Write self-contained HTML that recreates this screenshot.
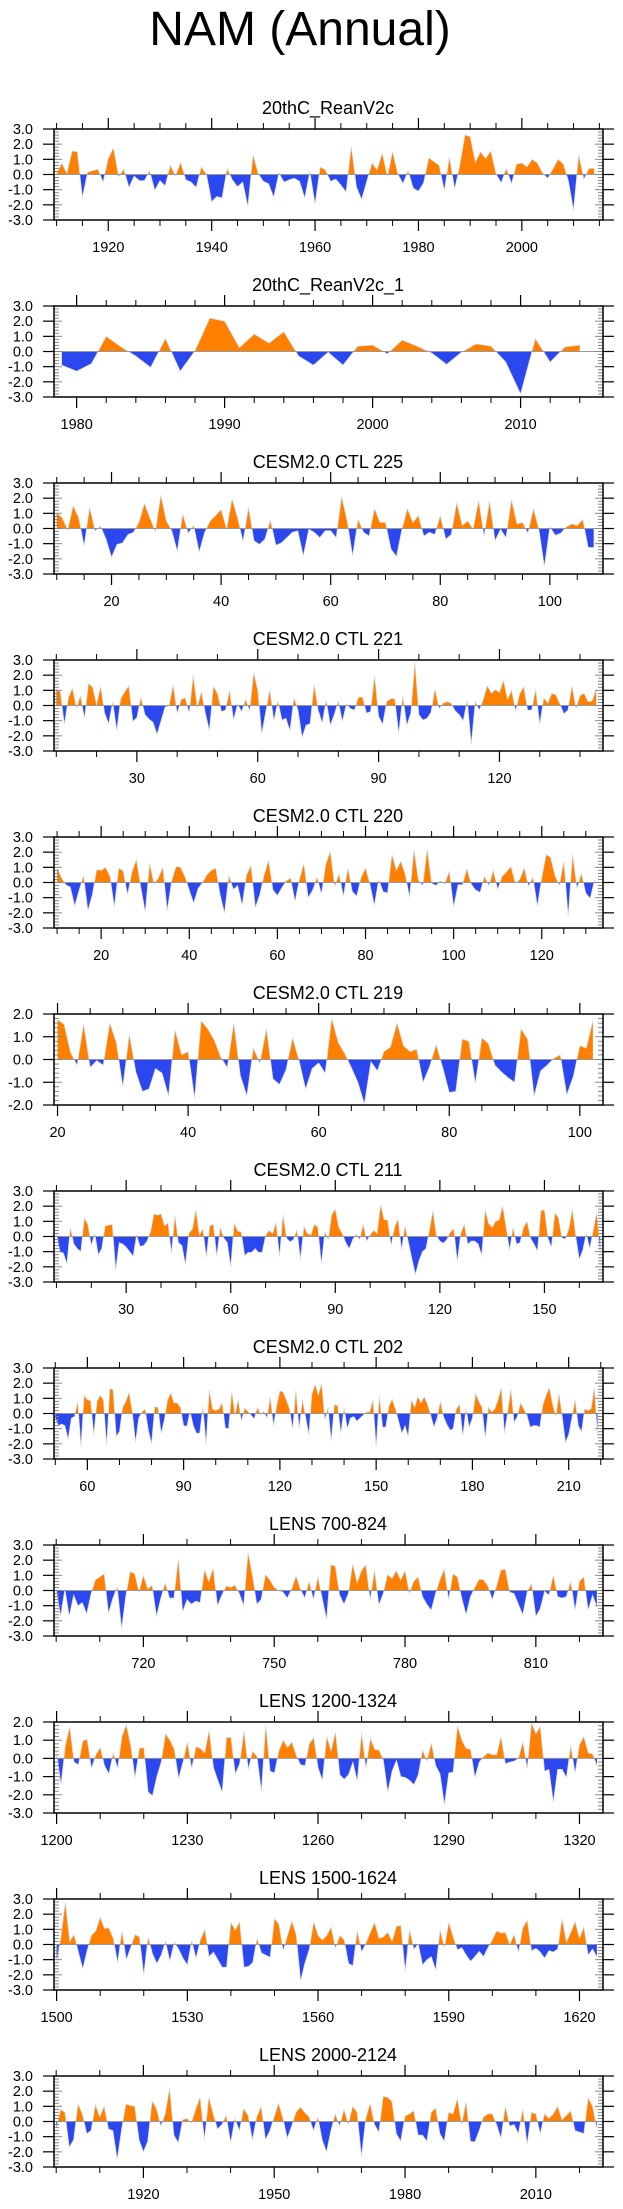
<!DOCTYPE html>
<html><head><meta charset="utf-8"><title>NAM (Annual)</title>
<style>
html,body{margin:0;padding:0;background:#fff;}
svg{display:block;font-family:"Liberation Sans",Arial,sans-serif;}
</style></head>
<body>
<svg id="fig" width="623" height="2209" viewBox="0 0 623 2209" xmlns="http://www.w3.org/2000/svg">
<text x="300" y="45" font-size="48" text-anchor="middle" fill="#000">NAM (Annual)</text>
</svg>
<script>
// ---- data arrays ----
const panelTitles = ["20thC_ReanV2c","20thC_ReanV2c_1","CESM2.0 CTL 225","CESM2.0 CTL 221","CESM2.0 CTL 220","CESM2.0 CTL 219","CESM2.0 CTL 211","CESM2.0 CTL 202","LENS 700-824","LENS 1200-1324","LENS 1500-1624","LENS 2000-2124"];
const panelStarts = [1910,1979,10,10,10,20,10,50,700,1200,1500,1900];
const panelXMin = [1909.5,1978.47,9.5,9.43,9.3,19.46,9.3,49.6,699.5,1199.4,1499.4,1899.5];
const panelXMax = [2015.7,2015.57,109.7,145.7,133.9,103.55,166.8,220.7,825.4,1325.4,1625.4,2025.4];
const panelYMin = [-3,-3,-3,-3,-3,-2,-3,-3,-3,-3,-3,-3];
const panelYMax = [3,3,3,3,3,2,3,3,3,2,3,3];
const majorTickStart = [1920,1980,20,30,20,20,30,60,720,1200,1500,1920];
const majorTickStep = [20,10,20,30,20,20,30,30,30,30,30,30];
const minorTickStep = [5,2,5,10,5,5,10,10,10,10,10,10];

const reanV2cValues = [0.05,0.75,0.05,1.55,1.5,-1.5,0.15,0.25,0.35,-0.5,1.05,1.75,-0.15,0.35,-0.85,-0.1,-0.4,-0.4,0.25,-1.05,-0.4,-0.75,0.6,-0.1,0.8,-0.35,-0.5,-0.85,0.5,0,-1.8,-1.45,-1.55,0.4,-0.35,-0.8,-0.5,-2.1,1.3,0.05,-0.45,-0.6,-1.5,0.1,-0.5,-0.35,-0.25,-0.45,-1.55,0.2,-1.95,0.5,0.3,-0.45,-0.3,-0.7,-1.15,1.85,-0.8,-1.65,-0.45,0.75,0.3,1.4,-0.15,1.5,0.05,-0.6,0.25,-0.9,-1.1,-0.55,1.1,0.85,0.6,-1.05,1.15,-0.95,0.6,2.6,2.5,0.8,1.5,1.05,1.55,0.05,-0.55,0.4,-0.6,0.7,0.75,0.5,1.0,0.75,0.1,-0.25,0.35,1.0,0.7,-0.4,-2.35,1.3,-0.3,0.4,0.4];
const reanV2c1Values = [-0.9,-1.3,-0.8,1.0,0.3,-0.3,-1.05,0.85,-1.3,0.05,2.2,2.0,0.25,1.15,0.55,1.3,-0.3,-0.9,-0.05,-0.9,0.35,0.42,-0.15,0.75,0.35,-0.1,-0.85,-0.05,0.5,0.35,-0.7,-2.8,0.85,-0.7,0.3,0.42];
const ctl225Values = [1.05,0.7,-0.1,1.5,0.7,-1.15,1.4,-0.15,0.15,-0.7,-1.9,-1.05,-0.95,-0.4,-0.25,0.4,1.65,0.7,-0.2,2.2,0.5,-0.15,-1.5,0.95,-0.3,0.2,-1.55,-0.25,0.5,0.85,1.25,-0.05,1.95,0.7,-0.85,1.4,-0.8,-1.05,-0.7,0.55,-1.1,-0.95,-0.6,-0.25,-0.15,-1.8,-0.05,-0.25,-0.6,-0.15,-0.15,-0.6,2.1,0.5,-1.8,0.6,-0.25,-0.5,1.3,0.4,0.4,-1.35,-1.85,-0.05,1.3,0.4,0.85,-0.5,-0.25,-0.4,0.85,-0.7,-0.4,1.7,0.2,0.5,-0.05,1.85,-0.5,1.8,-0.8,-0.05,-0.6,1.9,0.3,0.4,-0.3,1.3,-0.05,-2.5,0.1,-0.45,-0.3,0.1,0.3,0.2,0.6,-1.25,-1.25];
const ctl221Values = [1.1,0.9,-1.25,0.5,1.15,-0.15,0.65,-0.85,1.45,1.2,0.05,1.25,-0.5,-1.2,0.25,-1.65,0.45,0.9,1.3,-1.05,-0.8,0.55,-0.6,-0.9,-1.1,-1.9,-1.0,-0.1,0.0,1.35,-0.5,0.4,0.5,-0.5,2.0,-0.15,0.9,-0.5,-1.65,1.25,0.8,-0.4,-0.3,1.0,-0.95,0.1,-0.4,0.4,-0.35,2.15,1.0,-1.85,-0.4,1.05,-1.0,0.3,-0.95,-0.85,-1.65,0.5,-0.3,-2.1,-1.3,-1.2,1.4,-0.3,-1.15,0.35,-1.3,-0.6,0.3,-1.05,0.1,-0.2,-0.3,0.55,0.55,-0.5,-0.4,1.95,-0.7,-1.25,0.25,0.45,0.45,-1.85,0.65,-1.3,-0.5,2.85,-0.6,-0.95,-0.85,-0.45,1.1,-0.2,0.15,0.25,0.15,-0.35,-0.6,-1.0,0.35,-2.55,0.25,-0.3,0.4,1.3,0.8,1.05,0.85,1.65,0.4,1.0,-0.35,0.75,1.25,-0.3,-0.3,1.05,-1.25,0.5,0.15,0.8,0.7,0.1,-0.55,-0.3,1.3,-0.2,0.65,0.8,0.25,0.3,1.05];
const ctl220Values = [1.0,0.3,-0.15,-0.3,-1.55,-0.5,0.45,-1.85,-0.8,0.85,0.8,1.0,0.4,-1.6,0.95,0.75,-0.8,0.7,1.5,-0.3,-1.95,1.25,-0.1,0.3,1.0,-1.85,0.1,1.05,1.0,0.4,-0.5,-1.35,-0.4,0.0,0.5,0.8,0.95,-0.8,-2.0,0.45,-0.45,-0.2,-1.5,0.5,1.1,-1.65,-0.8,0.5,1.45,-0.5,-0.85,-0.35,0.1,0.3,-1.25,0.2,1.25,-1.0,-0.5,0.35,-0.75,1.2,2.05,-0.25,0.55,-0.9,0.95,-0.6,-0.9,0.35,0.95,-0.1,-1.5,0.2,-0.6,-0.7,1.85,0.8,1.4,0.55,-0.95,2.15,0.15,-0.2,2.2,-0.05,-0.2,0.1,-0.1,0.75,-1.6,-0.15,-0.15,0.9,-0.1,-0.5,-0.65,0.4,-0.2,0.8,-0.45,0.4,0.7,1.05,-0.05,0.2,0.95,-0.25,0.35,-1.55,0.3,1.85,1.65,0.45,-0.2,1.4,-2.2,1.85,-0.4,0.6,-0.7,-1.05,0.2];
const ctl219Values = [1.75,1.55,0.3,-0.25,1.55,-0.35,-0.05,-0.25,1.6,0.75,-1.2,1.1,-0.55,-1.4,-1.3,-0.4,-0.6,-1.6,1.3,0.2,0.35,-1.7,1.7,1.35,0.85,0.1,-0.35,1.6,-0.7,-1.6,0.5,-0.15,1.35,-0.85,-1.1,-0.45,0.95,-0.05,-1.3,-0.4,-0.15,-0.6,1.8,0.75,0.25,-0.35,-1.0,-1.95,-0.1,-0.5,0.35,0.55,1.6,0.6,0.35,0.45,-1.0,-0.3,0.65,-0.35,-1.45,-1.4,0.9,0.8,-1.05,0.95,0.7,-0.25,-0.55,-0.8,-1.0,1.35,0.9,-1.6,-0.5,-0.25,0.05,0.2,-1.55,-0.75,0.6,0.5,1.7];
const ctl211Values = [0.2,-1.0,-1.1,-1.8,0.6,-0.5,-0.8,-1.0,1.2,0.8,-0.6,0.2,-1.2,-0.8,0.7,0.75,0.8,-2.2,-0.4,-0.5,-0.7,-1.0,-1.3,0.1,-0.65,-0.6,-0.3,0.3,1.5,1.4,1.5,0.7,0.9,-1.1,1.4,-0.4,-0.6,-1.85,0.2,0.5,1.75,0.1,0.5,-1.35,0.7,0.8,-1.3,0.6,-0.1,-0.4,-2.0,0.9,0.35,0.3,-1.25,-1.05,-1.05,-0.8,-1.05,-1.05,0.05,0.4,0.2,0.9,-1.3,1.45,-0.1,-0.35,-0.2,0.45,-1.5,0.65,0.2,0.1,0.8,0.6,-1.8,0.3,-0.2,1.45,1.8,0.6,0.2,-0.4,-0.8,-0.2,0.15,-0.2,0.8,-0.3,0.1,0.4,0.2,2.1,1.1,1.1,-0.6,0.6,1.15,-0.9,0.7,-0.4,-1.5,-2.5,-1.6,-1.0,-0.8,0.4,1.7,0.05,-0.3,-0.45,-0.2,0.3,0.5,-1.65,0.2,0.8,-0.5,-0.3,-0.3,-0.5,-1.25,1.75,0.85,0.6,1.0,1.1,2.0,0.6,-0.9,0.6,-0.5,-0.4,0.6,1.0,-0.1,-0.5,-0.95,1.7,1.75,-0.1,-0.7,1.55,1.25,-0.1,-0.15,0.5,1.8,0.0,-1.5,-0.9,0.2,-0.8,0.4,1.6,-1.15];
const ctl202Values = [-0.3,-0.8,-0.7,-0.8,-1.7,-0.3,-0.2,0.8,-2.2,1.2,0.9,0.85,-1.4,0.8,1.2,0.9,-2.1,1.65,1.55,-1.5,-1.2,0.4,0.8,1.4,0.1,-1.9,-0.3,0.1,0.3,-1.1,-2.0,0.45,0.4,-1.3,-0.4,0.9,1.35,0.7,0.7,0.4,-0.8,-0.85,0.15,-0.8,-1.3,-1.3,0.45,-2.0,1.55,0.3,0.2,0.3,0.7,-0.95,-1.0,1.45,-0.1,0.9,-0.5,0.35,0.15,-0.1,-0.35,0.4,-0.1,0.15,-0.3,1.1,-0.8,0.5,1.5,1.4,0.9,0.3,-1.0,1.55,-1.0,0.9,-0.2,-1.4,1.3,1.9,1.2,2.0,-0.4,0.4,-1.8,0.6,0.5,-1.3,0.4,-1.0,-0.3,-0.2,-0.5,-0.3,-0.1,0.1,0.1,0.9,-2.2,1.2,-0.9,-0.9,0.5,0.95,0.3,-0.5,-1.3,-0.8,-1.5,0.9,0.4,1.1,0.7,1.1,0.6,-0.1,-0.9,-0.3,0.8,-0.2,-0.7,-1.1,-1.0,0.3,0.6,-1.5,0.3,-0.9,-0.3,1.3,0.8,0.4,-1.6,0.4,0.1,0.3,0.9,1.7,-1.3,0.1,1.6,-0.6,-0.2,0.7,0.3,-0.1,-0.9,-0.8,-0.8,-0.9,0.6,1.2,1.7,0.6,-0.2,1.3,-0.2,-1.9,-1.4,-0.3,0.9,-0.8,-1.2,0.3,0.2,0.3,1.7,-1.5];
const lens700Values = [0.1,-1.7,0.1,-1.7,-0.3,-1.0,-0.8,-1.55,-0.2,0.7,0.9,1.1,-1.5,-0.5,0.25,-2.5,-0.3,1.25,1.1,-0.1,1.0,0.1,0.35,-1.7,-0.5,0.5,-0.5,-0.5,2.1,-1.4,-0.6,-0.9,-0.7,-0.8,1.35,0.6,1.45,-1.0,-0.3,0.3,0.2,0.35,-0.2,-1.0,2.5,1.0,-0.9,-0.6,1.05,0.7,0.2,0.0,-0.1,-0.5,0.1,0.95,0.1,-0.5,0.6,-0.6,0.9,-0.5,-1.9,1.7,1.6,-0.3,-0.9,-0.2,1.75,0.5,1.3,1.7,-0.6,1.35,-0.95,-0.2,1.05,0.8,1.3,0.7,1.3,-0.2,0.6,0.9,-0.4,-0.9,-1.3,-0.2,0.7,1.4,-0.6,1.1,0.9,-0.5,-1.6,-0.4,0.2,0.75,0.7,0.3,-0.6,0.3,1.35,1.4,-0.1,-0.2,-0.9,-1.6,-0.1,0.45,-1.7,-1.2,-0.05,-0.3,1.0,-0.4,-0.5,-0.4,0.6,-1.3,0.6,0.9,-1.3,-0.3,-1.05];
const lens1200Values = [0.35,-1.45,0.7,1.75,-0.2,-0.35,0.95,1.05,-0.55,0.2,0.6,-0.4,-0.85,0.3,-0.55,1.2,1.85,0.7,-1.05,0.55,0.6,-1.85,-2.05,-1.0,-0.2,1.35,1.0,0.5,-1.1,-0.2,0.9,-0.55,0.65,0.55,0.3,1.55,-0.5,-1.2,-1.85,1.15,1.15,-0.85,-0.3,1.5,-0.6,0.4,0.1,-1.8,1.85,-0.7,-0.8,0.4,1.0,0.6,0.9,0.15,-0.35,-0.4,0.8,1.15,-0.5,-1.2,1.2,0.4,1.45,-0.9,-1.15,-0.9,-0.2,-1.25,1.4,-0.55,1.1,0.5,0.45,-0.1,-1.85,-0.7,-0.1,-1.0,-1.05,-1.2,-1.45,-0.9,0.45,-0.15,0.85,-0.4,-0.85,-2.55,-0.8,-0.75,1.8,1.0,0.55,0.5,-1.05,-0.2,0.1,0.3,0.2,0.2,1.2,-0.3,-0.2,-0.15,0.0,0.9,-0.55,1.95,1.35,1.75,-0.7,-0.6,-2.4,-0.6,-0.6,-1.05,0.7,-0.8,0.75,1.2,0.3,0.25,-0.4];
const lens1500Values = [-1.15,0.5,2.8,0.2,0.65,-0.5,-1.6,-0.4,0.6,0.9,1.8,1.05,1.1,0.4,-1.2,0.9,-1.0,-0.2,0.65,0.5,-2.0,0.5,-0.6,-1.25,-0.7,0.2,-1.1,0.15,-0.3,-0.9,-1.35,0.25,-0.9,0.3,1.0,-0.8,-0.5,-1.0,-1.5,-1.5,1.45,0.95,1.5,-1.5,-1.45,-1.2,0.4,-0.55,-0.7,-0.85,1.7,1.35,-0.4,0.6,1.55,0.6,-2.4,-1.2,-0.3,1.5,0.6,0.3,0.6,1.15,-0.25,0.6,0.3,-1.25,-1.4,0.9,-0.5,0.1,0.8,1.45,0.4,0.5,0.8,0.2,1.2,1.25,-1.75,0.95,-0.3,0.05,-1.35,-1.0,-0.8,-1.7,0.95,-0.2,1.45,0.5,-0.35,-0.2,-0.7,-1.1,-0.8,-0.45,-0.8,-0.2,0.3,0.9,0.75,0.8,0.0,0.65,-0.5,1.1,1.6,-0.4,-0.25,-0.5,-0.9,-0.4,-0.5,-0.3,1.7,0.15,0.8,1.5,0.4,1.15,-0.7,-0.3,-0.8];
const lens2000Values = [-0.5,0.8,0.6,-1.7,-1.2,1.15,0.5,-0.8,-0.6,1.1,0.3,1.0,-0.5,-0.6,-2.5,-0.5,1.15,1.05,1.0,-1.2,-2.0,-1.3,1.35,0.85,-0.3,0.5,2.2,-0.9,-1.4,0.1,0.2,-0.1,0.8,1.6,-1.2,1.6,0.5,-0.5,-0.2,0.4,-1.4,0.2,-0.6,0.85,0.4,-1.2,0.3,1.0,-1.2,-0.6,0.3,1.2,0.2,-1.1,-0.3,0.6,0.95,0.6,0.3,-0.6,0.3,-1.2,-2.0,-0.6,0.5,-0.3,0.8,-0.2,1.0,0.6,-2.3,0.2,1.2,-0.2,-0.7,1.65,1.6,1.3,-0.8,-1.3,0.35,0.5,0.7,-0.9,-0.9,-1.3,0.6,0.9,-0.8,-1.3,0.6,0.5,1.5,-0.2,1.3,-1.3,-1.35,-0.6,0.3,0.5,0.5,-0.2,-1.1,1.0,-0.3,-0.2,-0.8,0.8,-1.5,0.6,0.5,-0.8,0.5,0.2,0.5,1.0,0.1,0.4,0.7,-0.6,-0.7,-0.8,1.55,1.0,-0.5];

const panelValues = [reanV2cValues,reanV2c1Values,ctl225Values,ctl221Values,ctl220Values,ctl219Values,ctl211Values,ctl202Values,lens700Values,lens1200Values,lens1500Values,lens2000Values];

// ---- drawing ----
const NS = "http://www.w3.org/2000/svg";
const svg = document.getElementById("fig");
const PL = 54, PR = 603, PH = 91, TOP0 = 129, PITCH = 177;
const ORANGE = "#ff8000", BLUE = "#2b47f0";

function mk(tag, attrs, parent) {
  const e = document.createElementNS(NS, tag);
  for (const k in attrs) e.setAttribute(k, attrs[k]);
  parent.appendChild(e);
  return e;
}
function slug(s){return s.toLowerCase().replace(/[^a-z0-9]+/g,'-').replace(/^-|-$/g,'');}
function fmtY(v){return (Math.abs(v)<1e-9?0:v).toFixed(1);}

for (let p = 0; p < panelTitles.length; p++) {
  const top = TOP0 + p * PITCH, bot = top + PH;
  const xmin = panelXMin[p], xmax = panelXMax[p], ymin = panelYMin[p], ymax = panelYMax[p];
  const X = v => PL + (v - xmin) / (xmax - xmin) * (PR - PL);
  const Y = v => top + (ymax - v) / (ymax - ymin) * PH;
  const nm = slug(panelTitles[p]);

  const g = mk("g", {}, svg);
  
  

  const t = mk("text", {x: 328, y: top - 15, "font-size": 18, "text-anchor": "middle", fill: "#000"}, g);
  t.textContent = panelTitles[p];
  
  

  // area
  const vals = panelValues[p], st = panelStarts[p];
  const y0 = Y(0);
  let pts = [];
  pts.push(X(st).toFixed(2) + "," + y0.toFixed(2));
  for (let i = 0; i < vals.length; i++) pts.push(X(st + i).toFixed(2) + "," + Y(vals[i]).toFixed(2));
  pts.push(X(st + vals.length - 1).toFixed(2) + "," + y0.toFixed(2));
  const cidA = "ca" + p, cidB = "cb" + p;
  const defs = mk("defs", {}, g);
  const cA = mk("clipPath", {id: cidA}, defs);
  mk("rect", {x: PL, y: top, width: PR - PL, height: y0 - top}, cA);
  const cB = mk("clipPath", {id: cidB}, defs);
  mk("rect", {x: PL, y: y0, width: PR - PL, height: bot - y0}, cB);
  const pos = mk("polygon", {points: pts.join(" "), fill: ORANGE, "clip-path": "url(#" + cidA + ")"}, g);
  
  
  const neg = mk("polygon", {points: pts.join(" "), fill: BLUE, "clip-path": "url(#" + cidB + ")"}, g);
  
  
  const ln = mk("polyline", {points: pts.slice(1, -1).join(" "), fill: "none", stroke: "#d8d8d8", "stroke-width": 0.7}, g);
  
  

  // zero line
  const zl = mk("line", {x1: PL, x2: PR, y1: y0, y2: y0, stroke: "#999", "stroke-width": 1}, g);
  
  

  // y ticks
  for (let v = ymin; v <= ymax + 1e-9; v += 0.2) {
    const vv = Math.round(v * 10) / 10, yy = Y(vv);
    const major = Math.abs(vv - Math.round(vv)) < 1e-6;
    if (major) {
      mk("line", {x1: PL - 11, x2: PL, y1: yy, y2: yy, stroke: "#000", "stroke-width": 1.2}, g);
      mk("line", {x1: PR, x2: PR + 11, y1: yy, y2: yy, stroke: "#000", "stroke-width": 1.2}, g);
      mk("line", {x1: PL, x2: PL + 8, y1: yy, y2: yy, stroke: "#888", "stroke-width": 1}, g);
      mk("line", {x1: PR - 8, x2: PR, y1: yy, y2: yy, stroke: "#888", "stroke-width": 1}, g);
      const yl = mk("text", {x: 33, y: yy + 5, "font-size": 14.5, "text-anchor": "end", fill: "#000"}, g);
      yl.textContent = fmtY(vv);
      
      
    } else {
      mk("line", {x1: PL, x2: PL + 5, y1: yy, y2: yy, stroke: "#888", "stroke-width": 1}, g);
      mk("line", {x1: PR - 5, x2: PR, y1: yy, y2: yy, stroke: "#888", "stroke-width": 1}, g);
    }
  }

  // x ticks
  const mstep = minorTickStep[p], Mstep = majorTickStep[p], m0 = majorTickStart[p];
  let first = Math.ceil(xmin / mstep) * mstep;
  for (let v = first; v <= xmax + 1e-9; v += mstep) {
    const xx = X(v);
    const major = Math.abs(((v - m0) % Mstep + Mstep) % Mstep) < 1e-6;
    const L = major ? 11 : 6;
    mk("line", {x1: xx, x2: xx, y1: bot, y2: bot + L, stroke: "#000", "stroke-width": major ? 1.2 : 1}, g);
    mk("line", {x1: xx, x2: xx, y1: top - L, y2: top, stroke: "#000", "stroke-width": major ? 1.2 : 1}, g);
    if (major) {
      const xl = mk("text", {x: xx, y: bot + 32, "font-size": 14.5, "text-anchor": "middle", fill: "#000"}, g);
      xl.textContent = String(v);
      
      
    }
  }

  // frame
  const fr = mk("rect", {x: PL, y: top, width: PR - PL, height: PH, fill: "none", stroke: "#000", "stroke-width": 1.5}, g);
  
  
}
</script>
</body></html>
